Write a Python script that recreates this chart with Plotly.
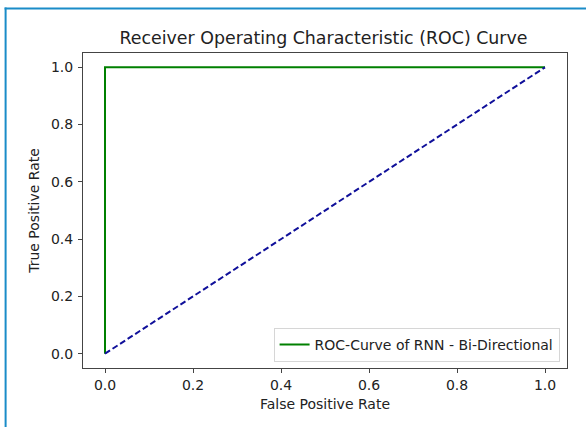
import plotly.graph_objects as go

# Data
fpr = [0.0, 0.0, 1.0]
tpr = [0.0, 1.0, 1.0]
diag_x = [0.0, 1.0]
diag_y = [0.0, 1.0]
tick_vals = [0.0, 0.2, 0.4, 0.6, 0.8, 1.0]
tick_text = ["0.0", "0.2", "0.4", "0.6", "0.8", "1.0"]

W, H = 586, 427
L, R, T, B = 83.3, 566.7, 53.3, 367.7

def px(x):
    return (x - L) / (R - L)

def py(y):
    return (B - y) / (B - T)

fig = go.Figure()
fig.add_trace(go.Scatter(x=fpr, y=tpr, mode="lines",
                         line=dict(color="#008000", width=2),
                         name="ROC-Curve of RNN - Bi-Directional"))
fig.add_trace(go.Scatter(x=diag_x, y=diag_y, mode="lines",
                         line=dict(color="#10109a", width=2, dash="6px,3px"),
                         showlegend=False))

font_family = "DejaVu Sans"
axis_common = dict(
    showgrid=False, zeroline=False, showline=True, mirror=True,
    linecolor="#444", linewidth=1, ticks="outside", ticklen=4,
    tickcolor="#444", tickwidth=1, tickvals=tick_vals, ticktext=tick_text,
    tickfont=dict(family=font_family, size=14, color="#222"),
)

fig.update_layout(
    width=W, height=H,
    margin=dict(l=L, r=W - R, t=T, b=H - B, autoexpand=False),
    paper_bgcolor="white", plot_bgcolor="white",
    title=dict(text="Receiver Operating Characteristic (ROC) Curve",
               x=323.5 / W, xanchor="center", y=1 - 38 / H, yanchor="middle",
               font=dict(family=font_family, size=17.4, color="#222")),
    xaxis=dict(range=[-0.05, 1.05],
               title=dict(text="False Positive Rate", standoff=7,
                          font=dict(family=font_family, size=14, color="#222")),
               **axis_common),
    yaxis=dict(range=[-0.05, 1.05], ticklabelstandoff=2,
               title=dict(text="True Positive Rate", standoff=8,
                          font=dict(family=font_family, size=14, color="#222")),
               **axis_common),
    legend=dict(x=px(559.3), y=py(361.7), xanchor="right", yanchor="bottom",
                bgcolor="rgba(255,255,255,0.8)", bordercolor="#d6d6d6", borderwidth=1,
                font=dict(family=font_family, size=14, color="#222")),
    showlegend=True,
)

# Blue frame around the picture
fig.add_shape(type="line", xref="paper", yref="paper",
              x0=px(6), x1=px(6), y0=py(8), y1=py(430),
              line=dict(color="#1a8cc8", width=2))
fig.add_shape(type="line", xref="paper", yref="paper",
              x0=px(5), x1=px(590), y0=py(9), y1=py(9),
              line=dict(color="#1a8cc8", width=2))

fig.write_html("out.html", config={"displayModeBar": False},
               post_script="document.body.style.margin='0';")
